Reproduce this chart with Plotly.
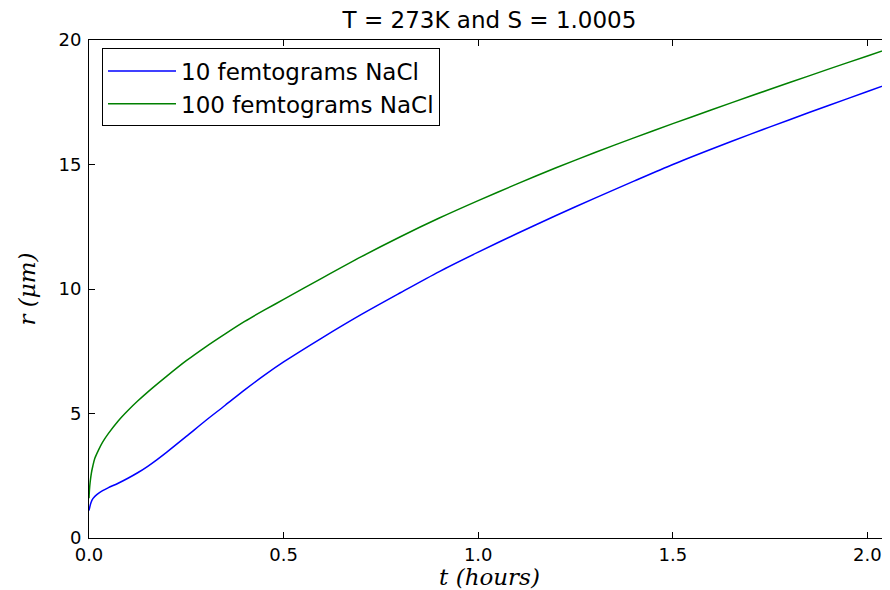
import plotly.graph_objects as go

# ---- data ----
t_10fg = [0.0, 0.005, 0.01, 0.02, 0.035, 0.05, 0.075, 0.1, 0.125, 0.15, 0.175, 0.2, 0.25,
          0.3, 0.35, 0.4, 0.45, 0.5, 0.6, 0.7, 0.8, 0.9, 1.0, 1.1, 1.2, 1.3, 1.4, 1.5,
          1.6, 1.7, 1.8, 1.9, 2.0, 2.058]
r_10fg = [1.1, 1.42, 1.58, 1.74, 1.9, 2.02, 2.2, 2.4, 2.62, 2.87, 3.15, 3.45, 4.08,
          4.72, 5.33, 5.95, 6.53, 7.07, 8.05, 8.98, 9.85, 10.7, 11.48, 12.23, 12.95, 13.65,
          14.33, 15.0, 15.62, 16.22, 16.8, 17.37, 17.93, 18.26]

t_100fg = [0.0, 0.001, 0.003, 0.006, 0.01, 0.015, 0.025, 0.035, 0.05, 0.075, 0.1, 0.125,
           0.15, 0.2, 0.25, 0.3, 0.35, 0.4, 0.45, 0.5, 0.6, 0.7, 0.8, 0.9, 1.0, 1.1, 1.2,
           1.3, 1.4, 1.5, 1.6, 1.7, 1.8, 1.9, 2.0, 2.058]
r_100fg = [1.6, 1.9, 2.25, 2.6, 2.9, 3.2, 3.55, 3.85, 4.2, 4.7, 5.12, 5.5,
           5.85, 6.5, 7.12, 7.68, 8.2, 8.7, 9.15, 9.58, 10.45, 11.3, 12.1, 12.85, 13.55,
           14.22, 14.87, 15.48, 16.07, 16.64, 17.2, 17.75, 18.29, 18.83, 19.36, 19.67]

series_names = ["10 femtograms NaCl", "100 femtograms NaCl"]
x_ticks = [0.0, 0.5, 1.0, 1.5, 2.0]
x_tick_labels = ["0.0", "0.5", "1.0", "1.5", "2.0"]
y_ticks = [0, 5, 10, 15, 20]
y_tick_labels = ["0", "5", "10", "15", "20"]

fig = go.Figure()
fig.add_trace(go.Scatter(x=t_10fg, y=r_10fg, mode="lines", name=series_names[0],
                         line=dict(color="#0000ff", width=1.5, shape="spline", smoothing=0.8)))
fig.add_trace(go.Scatter(x=t_100fg, y=r_100fg, mode="lines", name=series_names[1],
                         line=dict(color="#008000", width=1.5, shape="spline", smoothing=0.8)))

axis_common = dict(showgrid=False, zeroline=False, showline=True, linecolor="black",
                   linewidth=1, mirror="ticks", ticks="inside", ticklen=6,
                   tickcolor="black", tickwidth=1,
                   tickfont=dict(family="DejaVu Sans", size=18, color="black"))

fig.update_layout(
    width=882, height=582,
    margin=dict(l=81, r=0, t=32, b=52),
    paper_bgcolor="white", plot_bgcolor="white",
    title=dict(text="T = 273K and S = 1.0005", x=0.5, xref="paper", xanchor="center",
               y=1 - 12 / 582, yanchor="middle",
               font=dict(family="DejaVu Sans", size=23, color="black")),
    xaxis=dict(range=[0, 2.058], tickvals=x_ticks, ticktext=x_tick_labels,
               title=dict(text="t (hours)", standoff=0,
                          font=dict(family="DejaVu Serif", size=23, color="black", style="italic")),
               **axis_common),
    yaxis=dict(range=[0, 20], tickvals=y_ticks, ticktext=y_tick_labels,
               ticklabelstandoff=3,
               title=dict(text="r (μm)", standoff=16,
                          font=dict(family="DejaVu Serif", size=23, color="black", style="italic")),
               **axis_common),
    legend=dict(x=13 / 801, y=0.983, xanchor="left", yanchor="top",
                bgcolor="white", bordercolor="black", borderwidth=1,
                font=dict(family="DejaVu Sans", size=23, color="black"),
                tracegroupgap=0, itemwidth=68),
    showlegend=True,
)

fig.write_html("out.html")
